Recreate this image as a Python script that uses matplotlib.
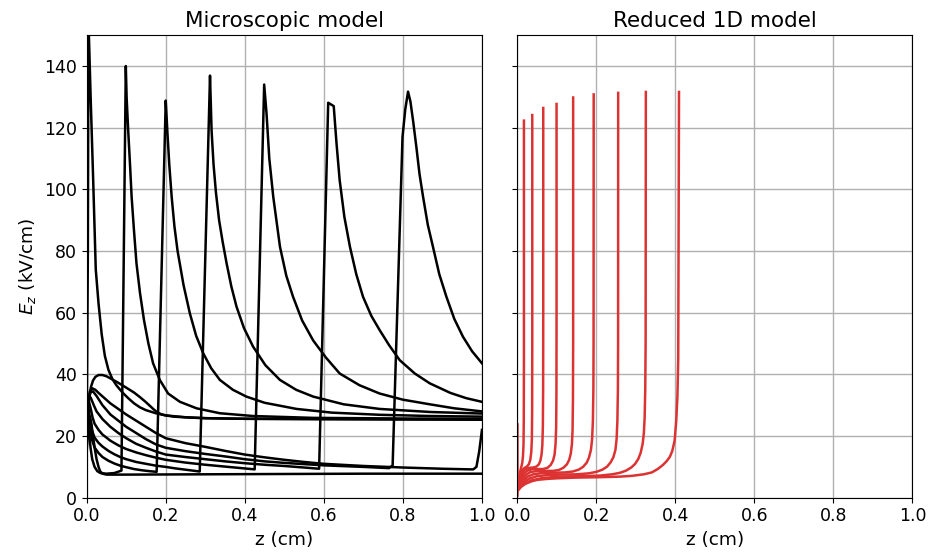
import matplotlib
matplotlib.use('Agg')
import matplotlib.pyplot as plt

# ---------------- Microscopic model (black curves) ----------------
micro_P_z = [0.0, 0.002, 0.004, 0.007, 0.011, 0.016, 0.022, 0.03, 0.04, 0.05, 0.063, 0.077, 0.09, 0.105, 0.12, 0.135, 0.148, 0.16, 0.17, 0.18, 0.19, 0.2, 0.22, 0.26, 0.3, 0.4, 0.6, 1.0]
micro_P_E = [16, 24, 29, 33, 36, 38, 39.2, 39.8, 39.8, 39.4, 38.5, 37.5, 36.5, 35.3, 34.1, 32.6, 31.2, 29.8, 28.6, 27.6, 27.0, 26.7, 26.3, 26.0, 25.8, 25.6, 25.5, 25.4]

micro_A_z = [0.0, 0.003, 0.0045, 0.01, 0.016, 0.023, 0.03, 0.038, 0.046, 0.055, 0.065, 0.075, 0.09, 0.105, 0.12, 0.135, 0.15, 0.175, 0.2, 0.25, 0.3, 0.4, 0.6, 1.0]
micro_A_E = [20, 80, 155, 130, 105, 74, 63, 53, 46, 41.5, 38.5, 36.5, 34.2, 32.3, 30.6, 29.3, 28.4, 27.4, 26.7, 26.1, 25.8, 25.6, 25.5, 25.3]

micro_B_z = [0.0, 0.003, 0.006, 0.01, 0.014, 0.02, 0.027, 0.035, 0.05, 0.07, 0.088, 0.099, 0.101, 0.105, 0.1095, 0.1137, 0.1196, 0.126, 0.135, 0.145, 0.156, 0.168, 0.185, 0.206, 0.236, 0.278, 0.337, 0.421, 0.573, 0.8, 1.0]
micro_B_E = [18, 24, 21, 16, 12.5, 10, 8.6, 8.0, 7.8, 8.0, 8.8, 140, 130, 119.2, 108.4, 97.6, 86.8, 76, 66.3, 57.6, 50.1, 43.6, 38.2, 33.8, 31.1, 29.0, 27.4, 26.5, 25.9, 25.7, 25.6]

micro_C_z = [0.0, 0.004, 0.008, 0.013, 0.02, 0.03, 0.04, 0.055, 0.07, 0.085, 0.1, 0.12, 0.14, 0.16, 0.177, 0.2, 0.202, 0.204, 0.209, 0.215, 0.222, 0.23, 0.245, 0.261, 0.277, 0.295, 0.315, 0.337, 0.37, 0.404, 0.45, 0.531, 0.62, 0.741, 0.87, 1.0]
micro_C_E = [22, 27.5, 23, 19, 16.3, 14.5, 13.2, 12, 11.1, 10.4, 9.9, 9.3, 8.9, 8.6, 8.4, 128.8, 124, 119, 108, 97.6, 88, 80, 69, 59.8, 52.5, 46.8, 42, 38.2, 35, 32.8, 30.8, 28.8, 27.6, 26.9, 26.5, 26.3]

micro_D_z = [0.0, 0.004, 0.008, 0.013, 0.02, 0.03, 0.04, 0.055, 0.07, 0.085, 0.1, 0.125, 0.15, 0.175, 0.2, 0.225, 0.25, 0.286, 0.312, 0.314, 0.316, 0.321, 0.327, 0.335, 0.344, 0.354, 0.366, 0.379, 0.398, 0.421, 0.452, 0.489, 0.53, 0.573, 0.65, 0.741, 0.87, 1.0]
micro_D_E = [25, 29.5, 26, 22, 19.5, 17.8, 16.6, 15.2, 14.1, 13.2, 12.5, 11.6, 11.0, 10.4, 10.0, 9.5, 9.1, 8.5, 136.9, 128, 119, 108, 99, 90, 83, 76, 68.5, 62, 55, 49, 43, 38.2, 35, 32.8, 30.3, 28.8, 27.8, 27.3]

micro_E_z = [0.0, 0.005, 0.01, 0.015, 0.02, 0.03, 0.04, 0.06, 0.08, 0.1, 0.125, 0.15, 0.175, 0.2, 0.25, 0.3, 0.35, 0.4, 0.425, 0.449, 0.455, 0.462, 0.472, 0.489, 0.505, 0.522, 0.545, 0.573, 0.605, 0.64, 0.69, 0.741, 0.8, 0.868, 0.93, 1.0]
micro_E_E = [28, 31.5, 29, 26, 24, 22, 20.5, 18.5, 17, 15.8, 14.7, 13.8, 13, 12.3, 11.4, 10.7, 10.1, 9.5, 9.2, 134, 124.6, 110, 97.6, 81.4, 72, 65.2, 57.5, 51, 45.5, 40.3, 36.5, 33.8, 31.8, 30.3, 29.0, 28.0]

micro_F_z = [0.0, 0.005, 0.01, 0.018, 0.025, 0.04, 0.06, 0.08, 0.1, 0.125, 0.15, 0.175, 0.2, 0.25, 0.3, 0.35, 0.4, 0.45, 0.5, 0.55, 0.588, 0.611, 0.625, 0.632, 0.64, 0.652, 0.666, 0.682, 0.699, 0.72, 0.741, 0.765, 0.792, 0.83, 0.868, 0.92, 0.96, 1.0]
micro_F_E = [30, 32.5, 32.5, 30, 28, 25.5, 23, 21, 19.3, 17.5, 16.2, 15, 14, 13.2, 12.5, 11.8, 11.2, 10.7, 10.3, 9.8, 9.4, 128.1, 127, 115, 103, 91, 81.4, 72.5, 65.2, 59, 54.4, 49.5, 44.6, 40.3, 37.1, 34, 32.3, 31.1]

micro_G_z = [0.0, 0.005, 0.01, 0.016, 0.025, 0.04, 0.06, 0.08, 0.1, 0.125, 0.15, 0.175, 0.2, 0.25, 0.3, 0.35, 0.4, 0.45, 0.5, 0.6, 0.7, 0.765, 0.774, 0.799, 0.806, 0.813, 0.819, 0.826, 0.834, 0.842, 0.851, 0.863, 0.876, 0.892, 0.91, 0.93, 0.952, 0.975, 1.0]
micro_G_E = [26, 32, 34.2, 34.5, 33, 30, 27, 25, 23, 21, 19, 17.3, 16.2, 15.1, 14.2, 13.4, 12.5, 11.8, 11.3, 10.5, 10, 9.6, 10.5, 117, 126, 131.7, 128.5, 122, 113.8, 105, 97.6, 88.5, 81.4, 72.5, 65.2, 58, 52.2, 47.5, 43.6]

micro_H_z = [0.0, 0.004, 0.008, 0.014, 0.022, 0.03, 0.045, 0.06, 0.08, 0.1, 0.125, 0.15, 0.175, 0.2, 0.25, 0.3, 0.35, 0.4, 0.45, 0.5, 0.55, 0.6, 0.7, 0.8, 0.9, 0.97, 0.978, 0.986, 0.993, 1.0]
micro_H_E = [24, 31, 34.5, 35.5, 35, 34, 32.3, 30.6, 28.8, 27, 25, 23, 21, 19.3, 17.7, 16.5, 15.2, 14, 13.1, 12.3, 11.6, 11, 10.3, 9.8, 9.4, 9.2, 9.2, 10, 15, 22]

micro_I_z = [0.0, 0.004, 0.008, 0.012, 0.016, 0.021, 0.025, 0.03, 0.034, 0.04, 0.05, 0.1, 0.3, 0.5, 0.7, 1.0]
micro_I_E = [15, 24, 26.3, 24, 20, 15.5, 12.5, 10, 8.6, 7.8, 7.5, 7.5, 7.6, 7.7, 7.8, 7.8]

# ---------------- Reduced 1D model (red curves) ----------------
red_0_z = [0.0, 0.0]
red_0_E = [1.0, 24.0]
red_1_z = [0.0, 0.003, 0.006, 0.009, 0.012, 0.014, 0.0153, 0.016, 0.0164, 0.0164]
red_1_E = [3.0, 5.8, 8.0, 9.6, 11.2, 13.5, 17, 25, 45, 122.3]
red_2_z = [0.0, 0.003, 0.007, 0.012, 0.018, 0.024, 0.029, 0.0325, 0.035, 0.0365, 0.0372, 0.0375, 0.0375]
red_2_E = [3.0, 5.0, 7.3, 8.9, 9.7, 10.1, 10.9, 12.3, 14.8, 19, 28, 50, 124.1]
red_3_z = [0.0, 0.003, 0.007, 0.013, 0.02, 0.03, 0.04, 0.048, 0.054, 0.058, 0.061, 0.063, 0.0643, 0.065, 0.0653, 0.0653]
red_3_E = [2.8, 4.5, 6.5, 8.3, 9.3, 9.7, 9.8, 10.1, 10.8, 12, 14, 17, 23, 35, 60, 126.4]
red_4_z = [0.0, 0.004, 0.009, 0.016, 0.025, 0.038, 0.05, 0.065, 0.076, 0.084, 0.09, 0.094, 0.0965, 0.098, 0.0987, 0.099, 0.099]
red_4_E = [2.7, 4.5, 6.2, 7.8, 8.8, 9.3, 9.3, 9.3, 9.7, 10.6, 12.0, 14, 17.5, 23, 35, 60, 127.7]
red_5_z = [0.0, 0.005, 0.011, 0.02, 0.032, 0.05, 0.07, 0.09, 0.105, 0.116, 0.125, 0.131, 0.135, 0.138, 0.1395, 0.1405, 0.141, 0.141]
red_5_E = [2.6, 4.2, 5.8, 7.3, 8.3, 8.7, 8.7, 8.7, 9.0, 9.7, 10.8, 12.3, 14.3, 17.5, 22, 32, 50, 129.8]
red_6_z = [0.0, 0.006, 0.013, 0.025, 0.04, 0.06, 0.09, 0.12, 0.14, 0.155, 0.166, 0.175, 0.181, 0.186, 0.189, 0.191, 0.1922, 0.1927, 0.193]
red_6_E = [2.5, 4.0, 5.4, 6.8, 7.6, 8.0, 8.1, 8.2, 8.5, 9.1, 10.0, 11.3, 13, 15.5, 19, 25, 35, 50, 130.8]
red_7_z = [0.0, 0.007, 0.015, 0.03, 0.05, 0.08, 0.11, 0.15, 0.18, 0.2, 0.215, 0.227, 0.236, 0.243, 0.248, 0.251, 0.253, 0.2543, 0.2548, 0.255]
red_7_E = [2.4, 3.8, 5.0, 6.2, 7.0, 7.4, 7.5, 7.6, 7.9, 8.4, 9.1, 10.1, 11.5, 13.2, 15.5, 19, 25, 35, 50, 131.3]
red_8_z = [0.0, 0.008, 0.018, 0.035, 0.06, 0.09, 0.13, 0.17, 0.21, 0.24, 0.26, 0.275, 0.288, 0.298, 0.306, 0.312, 0.317, 0.32, 0.322, 0.3235, 0.3245, 0.325]
red_8_E = [2.3, 3.6, 4.6, 5.6, 6.3, 6.7, 6.9, 7.0, 7.2, 7.6, 8.1, 8.8, 9.8, 11.0, 12.6, 14.6, 17.5, 21, 26, 35, 50, 131.6]
red_9_z = [0.0, 0.01, 0.02, 0.035, 0.05, 0.075, 0.1, 0.14, 0.18, 0.22, 0.26, 0.29, 0.32, 0.34, 0.355, 0.368, 0.378, 0.386, 0.392, 0.398, 0.402, 0.405, 0.407, 0.409]
red_9_E = [2.2, 3.6, 4.5, 5.3, 5.8, 6.1, 6.3, 6.5, 6.6, 6.7, 6.85, 7.1, 7.6, 8.2, 9.3, 10.6, 11.9, 13.3, 15.2, 18.6, 25, 33, 45, 131.6]

x_ticks = [0.0, 0.2, 0.4, 0.6, 0.8, 1.0]
y_ticks = [0, 20, 40, 60, 80, 100, 120, 140]
titles = ["Microscopic model", "Reduced 1D model"]

micro = [(micro_P_z, micro_P_E), (micro_A_z, micro_A_E), (micro_B_z, micro_B_E),
         (micro_C_z, micro_C_E), (micro_D_z, micro_D_E), (micro_E_z, micro_E_E),
         (micro_F_z, micro_F_E), (micro_G_z, micro_G_E), (micro_H_z, micro_H_E),
         (micro_I_z, micro_I_E)]
reduced = [(red_0_z, red_0_E), (red_1_z, red_1_E), (red_2_z, red_2_E), (red_3_z, red_3_E),
           (red_4_z, red_4_E), (red_5_z, red_5_E), (red_6_z, red_6_E), (red_7_z, red_7_E),
           (red_8_z, red_8_E), (red_9_z, red_9_E)]

fig = plt.figure(figsize=(9.29, 5.59), dpi=100)
ax1 = fig.add_axes([0.0933, 0.1096, 0.4255, 0.8274])
ax2 = fig.add_axes([0.557, 0.1096, 0.4252, 0.8274], sharey=ax1)

for z, E in micro:
    ax1.plot(z, E, color='black', lw=1.8, solid_joinstyle='round')
for z, E in reduced:
    ax2.plot(z, E, color='#dc3232', lw=1.8, solid_joinstyle='round')

for ax, t in zip((ax1, ax2), titles):
    ax.set_xlim(0, 1.0)
    ax.set_ylim(0, 150)
    ax.set_xticks(x_ticks)
    ax.set_yticks(y_ticks)
    ax.grid(True, color='#b0b0b0', lw=1.0)
    ax.tick_params(labelsize=12.5)
    ax.set_xlabel('z (cm)', fontsize=13.3)
    ax.set_title(t, fontsize=15.5)

ax1.set_ylabel('$E_z$ (kV/cm)', fontsize=13.3)
plt.setp(ax2.get_yticklabels(), visible=False)

fig.savefig('out.png', dpi=100)
